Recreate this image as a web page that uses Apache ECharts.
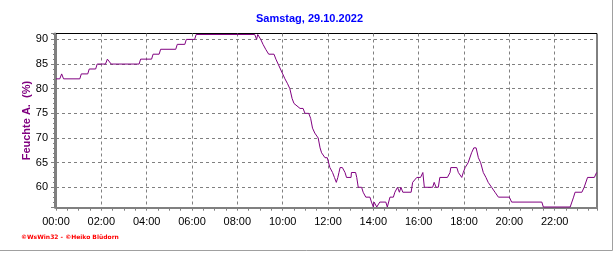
<!DOCTYPE html>
<html>
<head>
<meta charset="utf-8">
<script src="https://cdn.jsdelivr.net/npm/echarts@6/dist/echarts.min.js"></script>
<style>
html,body{margin:0;padding:0;background:#fff;}
#chart{width:616px;height:253px;}
</style>
</head>
<body>
<div id="chart"></div>
<script>
const chartTitle = 'Samstag, 29.10.2022';
const yAxisName = 'Feuchte A.  (%)';
const creditText = '\u00A9WsWin32 - \u00A9Heiko Bl\u00FCdorn';

// time of day in minutes after midnight
const times = [
  0, 10, 15, 20, 63, 67, 84, 88, 105, 109, 131, 136, 140, 146, 220, 224, 253, 257, 273, 277,
  317, 321, 341, 345, 367, 371, 526, 531, 534, 538, 542, 548, 555, 563, 577, 582, 588, 594, 600, 606,
  613, 619, 625, 630, 634, 646, 654, 659, 669, 674, 679, 685, 694, 699, 703, 712, 718, 725, 732, 737,
  742, 746, 749, 752, 758, 765, 769, 781, 782, 793, 796, 800, 809, 813, 820, 831, 835, 840, 842, 849,
  857, 873, 877, 884, 893, 897, 904, 909, 913, 918, 940, 944, 955, 965, 971, 975, 997, 1001, 1006, 1012,
  1016, 1036, 1043, 1045, 1061, 1065, 1074, 1078, 1083, 1091, 1100, 1106, 1112, 1118, 1124, 1131, 1138, 1144, 1153, 1162,
  1171, 1200, 1206, 1286, 1290, 1361, 1370, 1374, 1392, 1398, 1407, 1425, 1431
];
// relative humidity (%)
const humidity = [
  82, 82, 83, 82, 82, 83, 83, 84, 84, 85, 85, 86, 86, 85, 85, 86, 86, 87, 87, 88,
  88, 89, 89, 90, 90, 91, 91, 90, 91, 91, 90, 89, 88, 87, 87, 86, 85, 84, 83, 82,
  81, 80, 78, 77, 77, 76, 76, 75, 75, 74, 72, 71, 70, 68, 67, 66, 66, 64, 63, 62,
  61, 62, 63, 64, 64, 63, 62, 62, 63, 63, 62, 60, 60, 59, 58, 58, 57, 56, 57, 56,
  57, 57, 56, 58, 58, 59, 60, 59, 60, 59, 59, 61, 62, 62, 63, 60, 60, 61, 60, 60,
  62, 62, 63, 64, 64, 63, 62, 63, 64, 65, 67, 68, 68, 66, 65, 63, 62, 61, 60, 59,
  58, 58, 57, 57, 56, 56, 58, 59, 59, 60, 62, 62, 63
];

const xMin = 0, xMax = 1432;
const yMin = 55.86, yMax = 91.2;

const fmtTime = m => String(Math.floor(m / 60)).padStart(2, '0') + ':' + String(m % 60).padStart(2, '0');

const chart = echarts.init(document.getElementById('chart'), null, {renderer: 'canvas'});
const font = 'Liberation Sans';

chart.setOption({
  animation: false,
  backgroundColor: '#ffffff',
  grid: {
    left: 56, top: 33.5, width: 541, height: 174.2,
    show: true, borderColor: '#000000', borderWidth: 1, backgroundColor: 'transparent',
    containLabel: false
  },
  xAxis: {
    type: 'value', min: xMin, max: xMax,
    splitNumber: 12, minInterval: 120, maxInterval: 120,
    axisLine: {show: true, onZero: false, lineStyle: {color: '#808080', width: 2}},
    axisTick: {show: true, length: 3, lineStyle: {color: '#808080', width: 1}},
    minorTick: {show: true, splitNumber: 4, length: 3, lineStyle: {color: '#808080', width: 1}},
    axisLabel: {
      show: true, color: '#000', fontSize: 11, fontFamily: font, margin: 9,
      showMaxLabel: false, formatter: v => fmtTime(v)
    },
    splitLine: {show: true, showMinLine: false, showMaxLine: false,
      lineStyle: {color: '#808080', width: 1, type: [3, 3]}}
  },
  yAxis: {
    type: 'value', min: yMin, max: yMax, offset: 1,
    splitNumber: 7, minInterval: 5, maxInterval: 5,
    name: yAxisName, nameLocation: 'middle', nameGap: 23, nameMoveOverlap: false,
    nameTextStyle: {color: '#800080', fontSize: 11, fontWeight: 'bold', fontFamily: font},
    axisLine: {show: true, onZero: false, lineStyle: {color: '#808080', width: 2}},
    axisTick: {show: true, length: 4, lineStyle: {color: '#808080', width: 1}},
    minorTick: {show: true, splitNumber: 5, length: 2, lineStyle: {color: '#808080', width: 1}},
    axisLabel: {
      show: true, color: '#000', fontSize: 11, fontFamily: font, margin: 7,
      showMinLabel: false, showMaxLabel: false
    },
    splitLine: {show: true, showMinLine: false, showMaxLine: false,
      lineStyle: {color: '#808080', width: 1, type: [3, 3]}}
  },
  graphic: [
    {type: 'text', x: 309.5, y: 18.5, silent: true,
     style: {text: chartTitle, fill: '#0000ff', font: 'bold 11px "Liberation Sans"', textAlign: 'center', textVerticalAlign: 'middle'}},
    {type: 'text', x: 21, y: 237, silent: true,
     style: {text: creditText, fill: '#ff0000', font: 'bold 6px "DejaVu Sans"', textAlign: 'left', textVerticalAlign: 'middle'}},
    {type: 'line', silent: true, shape: {x1: 612.5, y1: 0, x2: 612.5, y2: 250.5}, style: {stroke: '#a0a0a0', lineWidth: 1}},
    {type: 'line', silent: true, shape: {x1: 0, y1: 250.5, x2: 612.5, y2: 250.5}, style: {stroke: '#a0a0a0', lineWidth: 1}}
  ],
  series: [{
    type: 'line',
    data: times.map((t, i) => [t, humidity[i]]),
    symbol: 'none',
    clip: true,
    lineStyle: {color: '#800080', width: 1},
    z: 3
  }]
});
</script>
</body>
</html>
